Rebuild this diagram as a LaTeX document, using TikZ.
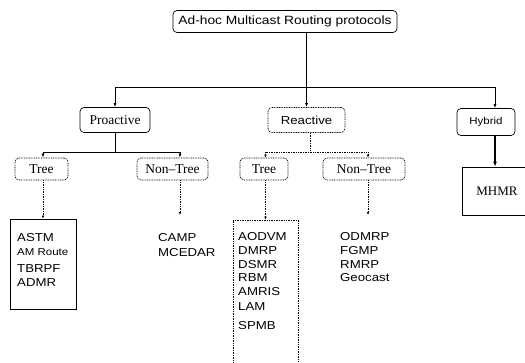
\documentclass[tikz,border=0pt]{standalone}
\usepackage{fontspec}
\setmainfont{Liberation Serif}
\newfontfamily\sansf{Liberation Sans}
\newfontfamily\widef[FakeStretch=1.15]{Liberation Sans}
\usetikzlibrary{arrows.meta}
\tikzset{
  fdot/.style={dash pattern=on 0.9pt off 0.8pt},
  box/.style={draw, rounded corners=4pt, line width=0.7pt, inner sep=0pt},
  dbox/.style={draw, fdot, rounded corners=4pt, line width=0.7pt, inner sep=0pt},
  lbox/.style={draw, line width=0.7pt, inner sep=0pt},
  dlbox/.style={draw, fdot, line width=0.7pt, inner sep=0pt},
  conn/.style={line width=0.8pt, -{Latex[length=4pt,width=3pt]}},
  dconn/.style={fdot, line width=0.7pt, -{Latex[length=3pt,width=2.5pt]}},
  item/.style={anchor=west, inner sep=0pt, font=\widef\fontsize{11.5}{11.5}\selectfont},
}
\begin{document}
\begin{tikzpicture}[x=1pt,y=-1pt]
\useasboundingbox (0,0) rectangle (525,362);
% level 0
\node[box, minimum width=224pt, minimum height=22pt, font=\widef\fontsize{12}{12}\selectfont] (top) at (285,21.5) {Ad-hoc Multicast Routing protocols};
% level 1
\node[box, minimum width=70pt, minimum height=25pt, font=\fontsize{13.5}{13.5}\selectfont] (pr) at (115,120) {Proactive};
\node[dbox, minimum width=77pt, minimum height=25pt, font=\widef\fontsize{11.5}{11.5}\selectfont] (re) at (306.5,120) {Reactive};
\node[box, minimum width=58pt, minimum height=27pt, font=\widef\fontsize{10}{10}\selectfont] (hy) at (486,122) {Hybrid};
% level 2
\node[dbox, minimum width=53pt, minimum height=22pt, font=\fontsize{13.5}{13.5}\selectfont] (tp) at (41.5,169) {Tree};
\node[dbox, minimum width=71pt, minimum height=22pt, font=\fontsize{13.5}{13.5}\selectfont] (np) at (172.5,169) {Non{\textendash}Tree};
\node[dbox, minimum width=48pt, minimum height=22pt, font=\fontsize{13.5}{13.5}\selectfont] (tr) at (264,169) {Tree};
\node[dbox, minimum width=82pt, minimum height=22pt, font=\fontsize{13.5}{13.5}\selectfont] (nr) at (364,169) {Non{\textendash}Tree};
\node[lbox, minimum width=70pt, minimum height=48pt] (mh) at (497,191) {};
\node[inner sep=0pt, font=\fontsize{13}{13}\selectfont] (mht) at (497,191) {MHMR};
% lists
\node[lbox, minimum width=66pt, minimum height=90pt] (lp) at (43.5,264) {};
\node[dlbox, minimum width=65pt, minimum height=160pt] (lr) at (265.5,300) {};
\node[item] (a1) at (17,238) {ASTM};
\node[item, font=\widef\fontsize{10}{10}\selectfont] (a2) at (17,252) {AM Route};
\node[item] (a3) at (17,269) {TBRPF};
\node[item] (a4) at (17,283) {ADMR};
\node[item] (b1) at (158,238) {CAMP};
\node[item] (b2) at (158,253) {MCEDAR};
\coordinate (bt) at (180,215);
\node[item] (c1) at (238,237) {AODVM};
\node[item] (c2) at (238,251) {DMRP};
\node[item] (c3) at (238,265) {DSMR};
\node[item] (c4) at (238,278) {RBM};
\node[item] (c5) at (238,292) {AMRIS};
\node[item] (c6) at (238,307) {LAM};
\node[item] (c7) at (238,326) {SPMB};
\node[item] (d1) at (340,237) {ODMRP};
\node[item] (d2) at (340,251) {FGMP};
\node[item] (d3) at (340,265) {RMRP};
\node[item] (d4) at (340,278) {Geocast};
\coordinate (dt) at (368,215);
% connectors level 0 -> 1
\coordinate (bus) at (0,87);
\draw[conn] (top.south -| re.north) -- (re.north);
\draw[line width=0.8pt] (bus -| pr.north) -- ([xshift=9pt]bus -| hy.north);
\draw[conn] (bus -| pr.north) -- (pr.north);
\draw[conn] ([xshift=9pt]bus -| hy.north) -- ([xshift=9pt]hy.north);
% proactive split
\coordinate (pbus) at (0,152);
\draw[line width=0.8pt] (pr.south) -- (pbus -| pr.south);
\draw[line width=0.8pt] ([xshift=1.5pt]pbus -| tp.north) -- ([xshift=7.5pt]pbus -| np.north);
\draw[conn] ([xshift=1.5pt]pbus -| tp.north) -- ([xshift=1.5pt]tp.north);
\draw[conn] ([xshift=7.5pt]pbus -| np.north) -- ([xshift=7.5pt]np.north);
% reactive split
\draw[fdot, line width=0.8pt] ([xshift=3.5pt]re.south) -- ([xshift=3.5pt]pbus -| re.south);
\draw[fdot, line width=0.8pt] (pbus -| lr.north) -- ([xshift=4pt]pbus -| nr.north);
\draw[dconn] (pbus -| lr.north) -- (lr.north |- tr.north);
\draw[dconn] ([xshift=4pt]pbus -| nr.north) -- ([xshift=4pt]nr.north);
% hybrid
\draw[line width=1.2pt, -{Latex[length=5pt,width=4pt]}] ([xshift=9pt]hy.south) -- ([xshift=9pt]hy.south |- mh.north);
% level 2 -> lists
\draw[dconn] ([xshift=1.5pt]tp.south) -- ([xshift=1.5pt]tp.south |- lp.north);
\draw[dconn] ([xshift=7.5pt]np.south) -- (bt);
\draw[dconn] (lr.north |- tr.south) -- (lr.north);
\draw[dconn] ([xshift=4pt]nr.south) -- (dt);
\end{tikzpicture}
\end{document}
